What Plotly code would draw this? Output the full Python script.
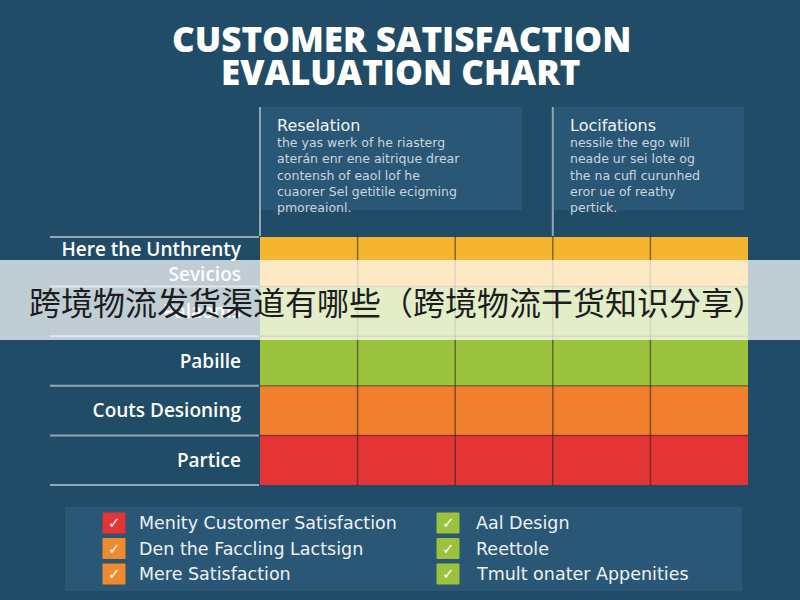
import plotly.graph_objects as go

# ---------------- data ----------------
row_labels = ["Here the Unthrenty<br>Sevicios", "Palaoms", "Pabille", "Couts Desioning", "Partice"]
col_labels = ["C1", "C2", "C3", "C4", "C5"]
# satisfaction level per cell: 0 = low (red) ... 3 = high (green)
scores = [
    [2, 2, 2, 2, 2],
    [3, 3, 3, 3, 3],
    [3, 3, 3, 3, 3],
    [1, 1, 1, 1, 1],
    [0, 0, 0, 0, 0],
]
level_colors = ["#e33535", "#f07f2e", "#f6b52f", "#9bc23c"]

title_lines = ["CUSTOMER SATISFACTION", "EVALUATION CHART"]
box1_title = "Reselation"
box1_lines = ["the yas werk of he riasterg", "aterán enr ene aitrique drear",
              "contensh of eaol lof he", "cuaorer Sel getitile ecigming", "pmoreaionl."]
box2_title = "Locifations"
box2_lines = ["nessile the ego will", "neade ur sei lote og", "the na cufl curunhed",
              "eror ue of reathy", "pertick."]
legend_left = ["Menity Customer Satisfaction", "Den the Faccling Lactsign", "Mere Satisfaction"]
legend_left_colors = ["#e33535", "#f08a2e", "#f08a2e"]
legend_right = ["Aal Design", "Reettole", "Tmult onater Appenities"]
legend_right_colors = ["#9bc23c", "#9bc23c", "#9bc23c"]
banner_text = "跨境物流发货渠道有哪些（跨境物流干货知识分享）"

# ---------------- layout helpers ----------------
W, H = 800, 600
L, R, T, B = 259, 748, 236, 486
def px(x):
    return (x - L) / (R - L)
def py(y):
    return (B - y) / (B - T)

BG = "#214c68"
BOX = "#2b5777"
LINE = "#8ea8ba"

n = len(level_colors)
colorscale = []
for i, c in enumerate(level_colors):
    colorscale.append([i / n, c])
    colorscale.append([(i + 1) / n, c])

fig = go.Figure(go.Heatmap(
    z=scores, x=col_labels, y=row_labels,
    colorscale=colorscale, zmin=-0.5, zmax=n - 0.5,
    showscale=False, xgap=0, ygap=0, hoverinfo="skip",
))

shapes = []
annotations = []

# cell separators
for i in range(1, len(col_labels)):
    shapes.append(dict(type="line", xref="x", yref="paper", x0=i - 0.5, x1=i - 0.5, y0=0, y1=1,
                       line=dict(color="rgba(40,35,30,0.55)", width=1.5), layer="above"))
for j in range(1, len(row_labels)):
    shapes.append(dict(type="line", xref="paper", yref="y", x0=0, x1=1, y0=j - 0.5, y1=j - 0.5,
                       line=dict(color="rgba(40,35,30,0.45)", width=1.5), layer="above"))

# label separator lines
for j in range(len(row_labels) + 1):
    shapes.append(dict(type="line", xref="paper", yref="y", x0=px(50), x1=px(259),
                       y0=j - 0.5, y1=j - 0.5, line=dict(color=LINE, width=2), layer="below"))

# text boxes
for (x0, x1) in [(260, 522), (554, 744)]:
    shapes.append(dict(type="rect", xref="paper", yref="paper", x0=px(x0), x1=px(x1),
                       y0=py(210), y1=py(107), fillcolor=BOX, line=dict(width=0), layer="below"))
for xv in [-0.5, 2.5]:
    shapes.append(dict(type="line", xref="x", yref="paper", x0=xv, x1=xv, y0=1, y1=py(107),
                       line=dict(color=LINE, width=2), layer="below"))

def add_box_text(x, title, lines):
    annotations.append(dict(x=px(x), y=py(125), xref="paper", yref="paper", text=title,
                            showarrow=False, xanchor="left", yanchor="middle",
                            font=dict(family="DejaVu Sans", size=16, color="#f2f5f7")))
    annotations.append(dict(x=px(x), y=py(133), xref="paper", yref="paper",
                            text="<br>".join(lines), align="left",
                            showarrow=False, xanchor="left", yanchor="top",
                            font=dict(family="DejaVu Sans", size=12.5, color="#c9d5de")))
add_box_text(275, box1_title, box1_lines)
add_box_text(568, box2_title, box2_lines)

# title
for k, t in enumerate(title_lines):
    annotations.append(dict(x=px(401), y=py(38 + k * 33), xref="paper", yref="paper", text=t,
                            showarrow=False, xanchor="center", yanchor="middle",
                            font=dict(family="Open Sans", size=35, color="#ffffff", weight=800)))

# legend box
shapes.append(dict(type="rect", xref="paper", yref="paper", x0=px(65), x1=px(742),
                   y0=py(591), y1=py(507), fillcolor=BOX, line=dict(width=0), layer="below"))
def add_legend(col_x, text_x, labels, colors):
    for k, (t, c) in enumerate(zip(labels, colors)):
        yc = 523 + k * 25.5
        shapes.append(dict(type="rect", xref="paper", yref="paper", x0=px(col_x), x1=px(col_x + 22),
                           y0=py(yc + 10), y1=py(yc - 10), fillcolor=c,
                           line=dict(color=c, width=1), layer="above"))
        annotations.append(dict(x=px(col_x + 11), y=py(yc), xref="paper", yref="paper", text="✓",
                                showarrow=False, xanchor="center", yanchor="middle",
                                font=dict(family="DejaVu Sans", size=15, color="#ffffff")))
        annotations.append(dict(x=px(text_x), y=py(yc), xref="paper", yref="paper", text=t,
                                showarrow=False, xanchor="left", yanchor="middle",
                                font=dict(family="DejaVu Sans", size=17.5, color="#eef2f5")))
add_legend(103, 137, legend_left, legend_left_colors)
add_legend(437, 474, legend_right, legend_right_colors)

# banner overlay
shapes.append(dict(type="rect", xref="paper", yref="paper", x0=px(0), x1=px(800),
                   y0=py(340), y1=py(260), fillcolor="rgba(255,255,255,0.72)",
                   line=dict(width=0), layer="above"))
annotations.append(dict(x=px(397), y=py(301), xref="paper", yref="paper", text=banner_text,
                        showarrow=False, xanchor="center", yanchor="middle",
                        font=dict(family="Noto Sans CJK SC", size=32, color="#1d1d1d")))

fig.update_layout(
    width=W, height=H,
    margin=dict(l=L, r=W - R, t=T, b=H - B, pad=0),
    paper_bgcolor=BG, plot_bgcolor=BG,
    shapes=shapes, annotations=annotations,
    xaxis=dict(showticklabels=False, showgrid=False, zeroline=False, ticks=""),
    yaxis=dict(autorange="reversed", showgrid=False, zeroline=False, ticks="",
               ticklabelstandoff=17,
               tickfont=dict(family="Open Sans", size=19, color="#ffffff", weight=600)),
    showlegend=False,
)

fig.write_html("out.html", config={"displayModeBar": False},
               post_script="document.body.style.margin='0';")
